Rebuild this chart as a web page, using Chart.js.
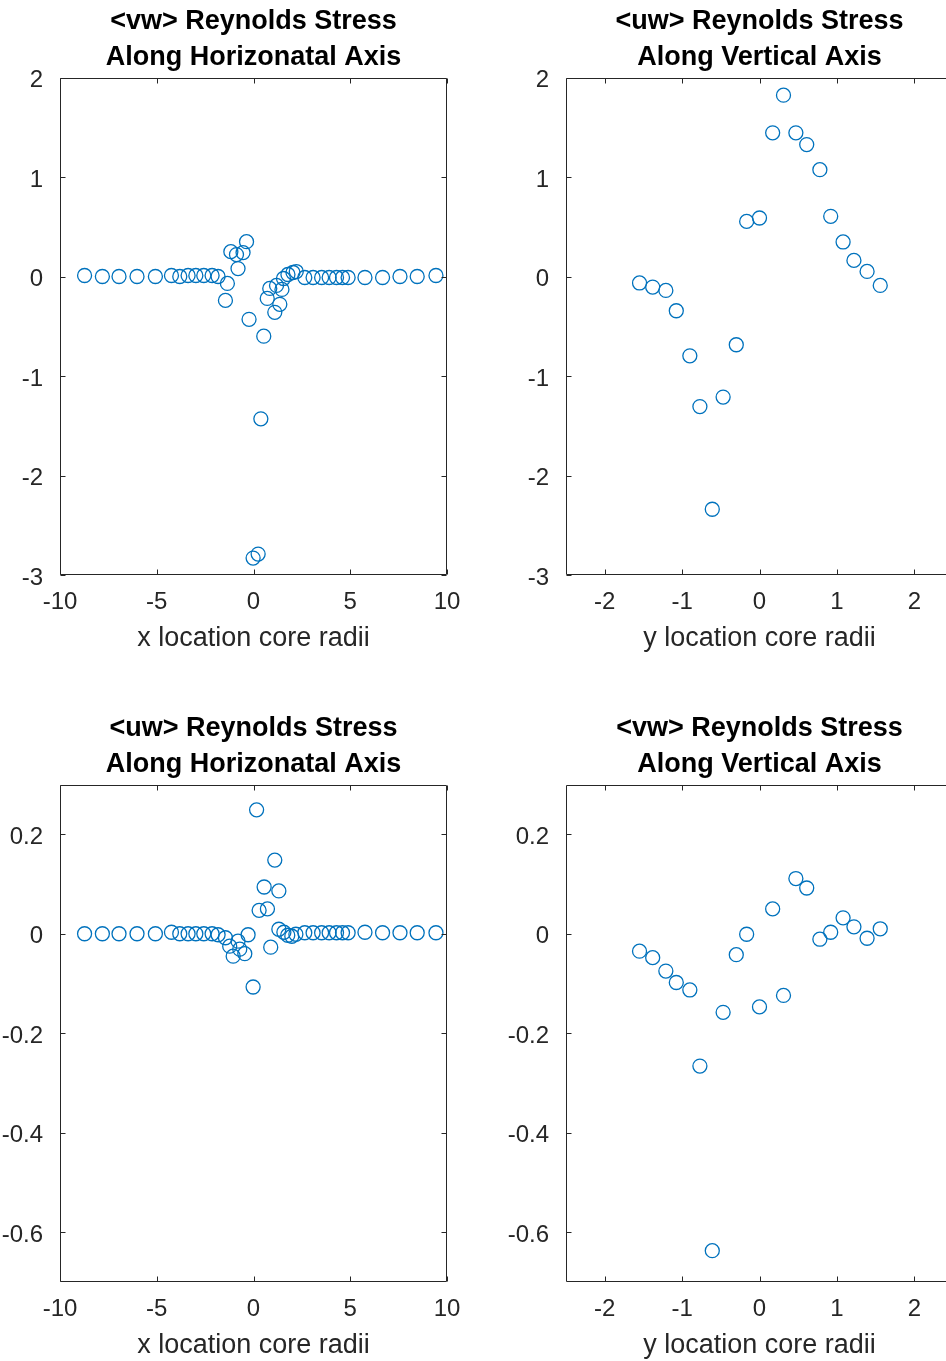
<!DOCTYPE html>
<html><head><meta charset="utf-8">
<script src="https://cdn.jsdelivr.net/npm/chart.js@4/dist/chart.umd.min.js"></script>
<style>
html,body{margin:0;padding:0;width:946px;height:1361px;overflow:hidden;background:#fff;}
canvas{position:absolute;}
</style></head><body>
<script>
// ---- tick labels ----
const xTicksHoriz = [-10, -5, 0, 5, 10];
const xTicksVert = [-2, -1, 0, 1, 2];
const yTicksTop = [-3, -2, -1, 0, 1, 2];
const yTicksBottom = [-0.6, -0.4, -0.2, 0, 0.2];

// ---- titles / labels ----
const titleTL = ['<vw> Reynolds Stress', 'Along Horizonatal Axis'];
const titleTR = ['<uw> Reynolds Stress', 'Along Vertical Axis'];
const titleBL = ['<uw> Reynolds Stress', 'Along Horizonatal Axis'];
const titleBR = ['<vw> Reynolds Stress', 'Along Vertical Axis'];
const xLabelHoriz = 'x location core radii';
const xLabelVert = 'y location core radii';

// ---- <vw> along horizontal axis ----
const vwHorizX = [-8.73, -7.81, -6.95, -6.02, -5.07, -4.24, -3.81, -3.38, -2.98, -2.57, -2.14, -1.83,
  -1.45, -1.35, -1.17, -0.88, -0.80, -0.54, -0.36, -0.23,
  -0.02, 0.24, 0.38, 0.53,
  0.71, 0.84, 1.10, 1.36, 1.19, 1.47, 1.55, 1.78, 2.04, 2.21,
  2.65, 3.08, 3.52, 3.91, 4.29, 4.60, 4.89, 5.76, 6.67, 7.57, 8.46, 9.43];
const vwHorizY = [0.01, 0.0, 0.0, 0.0, 0.0, 0.01, 0.0, 0.01, 0.01, 0.01, 0.01, 0.0,
  -0.24, -0.07, 0.25, 0.22, 0.08, 0.24, 0.35, -0.43,
  -2.83, -2.79, -1.43, -0.60,
  -0.22, -0.12, -0.36, -0.28, -0.09, -0.13, -0.02, 0.02, 0.04, 0.05,
  -0.01, -0.01, -0.01, -0.01, -0.01, -0.01, -0.01, -0.01, -0.01, 0.0, 0.0, 0.01];

// ---- <uw> along horizontal axis ----
const uwHorizX = [-8.73, -7.81, -6.95, -6.02, -5.07, -4.24, -3.81, -3.38, -2.98, -2.57, -2.14, -1.83,
  -1.45, -1.23, -1.05, -0.80, -0.71, -0.45, -0.28,
  -0.02, 0.16, 0.29, 0.55, 0.72, 0.89, 1.10, 1.31,
  1.31, 1.57, 1.77, 1.98, 2.19,
  2.65, 3.08, 3.52, 3.91, 4.29, 4.60, 4.89, 5.76, 6.67, 7.57, 8.46, 9.43];
const uwHorizY = [0, 0, 0, 0, 0, 0.003, 0, 0, 0, 0, 0, -0.002,
  -0.008, -0.025, -0.045, -0.015, -0.031, -0.040, -0.002,
  -0.107, 0.249, 0.047, 0.094, 0.050, -0.027, 0.148, 0.086,
  0.009, 0.003, -0.003, -0.005, -0.001,
  0.002, 0.002, 0.002, 0.002, 0.002, 0.002, 0.002, 0.003, 0.002, 0.002, 0.002, 0.002];

// ---- along vertical axis (shared y locations) ----
const vertLoc = [-1.55, -1.38, -1.21, -1.075, -0.90, -0.77, -0.61, -0.47, -0.30, -0.166, 0.0,
  0.17, 0.31, 0.47, 0.61, 0.78, 0.92, 1.08, 1.22, 1.39, 1.56];
const uwVertY = [-0.065, -0.106, -0.14, -0.344, -0.797, -1.307, -2.339, -1.212, -0.686, 0.554, 0.588,
  1.444, 1.822, 1.444, 1.326, 1.074, 0.605, 0.347, 0.162, 0.051, -0.09];
const vwVertY = [-0.035, -0.048, -0.075, -0.098, -0.113, -0.266, -0.637, -0.158, -0.042, -0.001, -0.147,
  0.050, -0.124, 0.111, 0.092, -0.011, 0.003, 0.032, 0.014, -0.009, 0.010];

const FONT = '"Liberation Sans", Arial, Helvetica, sans-serif';
const TEXT = '#262626';
const BLUE = '#0072BD';

const framePlugin = {
  id: 'frame',
  afterDatasetsDraw(chart) {
    const {ctx, chartArea: a, scales: {x, y}} = chart;
    const L = Math.round(a.left) + 0.5, R = Math.round(a.right) - 0.5;
    const T = Math.round(a.top) + 0.5, B = Math.round(a.bottom) - 0.5;
    const len = 5;
    ctx.save();
    ctx.strokeStyle = TEXT;
    ctx.lineWidth = 1;
    ctx.beginPath();
    ctx.rect(L, T, R - L, B - T);
    x.ticks.forEach(t => {
      const p = Math.round(x.getPixelForValue(t.value)) + 0.5;
      ctx.moveTo(p, B); ctx.lineTo(p, B - len);
      ctx.moveTo(p, T); ctx.lineTo(p, T + len);
    });
    y.ticks.forEach(t => {
      const p = Math.round(y.getPixelForValue(t.value)) + 0.5;
      ctx.moveTo(L, p); ctx.lineTo(L + len, p);
      ctx.moveTo(R, p); ctx.lineTo(R - len, p);
    });
    ctx.stroke();
    ctx.restore();
  }
};

function makeChart(o) {
  const c = document.createElement('canvas');
  c.width = o.width; c.height = o.height;
  c.style.left = o.left + 'px'; c.style.top = o.top + 'px';
  c.style.width = o.width + 'px'; c.style.height = o.height + 'px';
  document.body.appendChild(c);
  new Chart(c, {
    type: 'scatter',
    data: {
      datasets: [{
        data: o.xs.map((v, i) => ({x: v, y: o.ys[i]})),
        pointStyle: 'circle',
        pointRadius: 7,
        pointHoverRadius: 7,
        pointBorderWidth: 1.3,
        borderColor: BLUE,
        backgroundColor: 'rgba(0,0,0,0)',
        showLine: false
      }]
    },
    options: {
      responsive: false,
      animation: false,
      events: [],
      layout: {padding: {left: 0, right: o.padRight, top: 0, bottom: o.height - 655}},
      plugins: {
        legend: {display: false},
        tooltip: {enabled: false},
        title: {
          display: true,
          text: o.title,
          fullSize: false,
          color: '#000',
          font: {family: FONT, size: 27, weight: 'bold', lineHeight: '36px'},
          padding: {top: 4, bottom: 1.5}
        }
      },
      scales: {
        x: {
          type: 'linear',
          position: 'bottom',
          min: o.xMin, max: o.xMax,
          grid: {display: false},
          border: {display: false},
          afterBuildTicks: s => { s.ticks = o.xTicks.map(v => ({value: v})); },
          afterFit: s => { s.height = 80; },
          ticks: {
            color: TEXT, padding: 5, maxRotation: 0, autoSkip: false,
            font: {family: FONT, size: 24},
            callback: v => String(v)
          },
          title: {
            display: true, text: o.xLabel, color: TEXT,
            font: {family: FONT, size: 27},
            padding: {top: 0, bottom: 0}
          }
        },
        y: {
          type: 'linear',
          position: 'left',
          min: o.yMin, max: o.yMax,
          grid: {display: false},
          border: {display: false},
          afterBuildTicks: s => { s.ticks = o.yTicks.map(v => ({value: v})); },
          afterFit: s => { s.width = o.axisLeft; },
          ticks: {
            color: TEXT, padding: 9, autoSkip: false, labelOffset: 3,
            font: {family: FONT, size: 24},
            callback: v => String(v)
          }
        }
      }
    },
    plugins: [framePlugin]
  });
}

makeChart({left: 0, top: 0, width: 473, height: 660, axisLeft: 60, padRight: 26,
  title: titleTL, xLabel: xLabelHoriz, xs: vwHorizX, ys: vwHorizY,
  xMin: -10, xMax: 10, xTicks: xTicksHoriz, yMin: -3, yMax: 2, yTicks: yTicksTop});
makeChart({left: 473, top: 0, width: 490, height: 660, axisLeft: 93, padRight: 10,
  title: titleTR, xLabel: xLabelVert, xs: vertLoc, ys: uwVertY,
  xMin: -2.5, xMax: 2.5, xTicks: xTicksVert, yMin: -3, yMax: 2, yTicks: yTicksTop});
makeChart({left: 0, top: 707, width: 473, height: 660, axisLeft: 60, padRight: 26,
  title: titleBL, xLabel: xLabelHoriz, xs: uwHorizX, ys: uwHorizY,
  xMin: -10, xMax: 10, xTicks: xTicksHoriz, yMin: -0.7, yMax: 0.3, yTicks: yTicksBottom});
makeChart({left: 473, top: 707, width: 490, height: 660, axisLeft: 93, padRight: 10,
  title: titleBR, xLabel: xLabelVert, xs: vertLoc, ys: vwVertY,
  xMin: -2.5, xMax: 2.5, xTicks: xTicksVert, yMin: -0.7, yMax: 0.3, yTicks: yTicksBottom});
</script>
</body></html>
